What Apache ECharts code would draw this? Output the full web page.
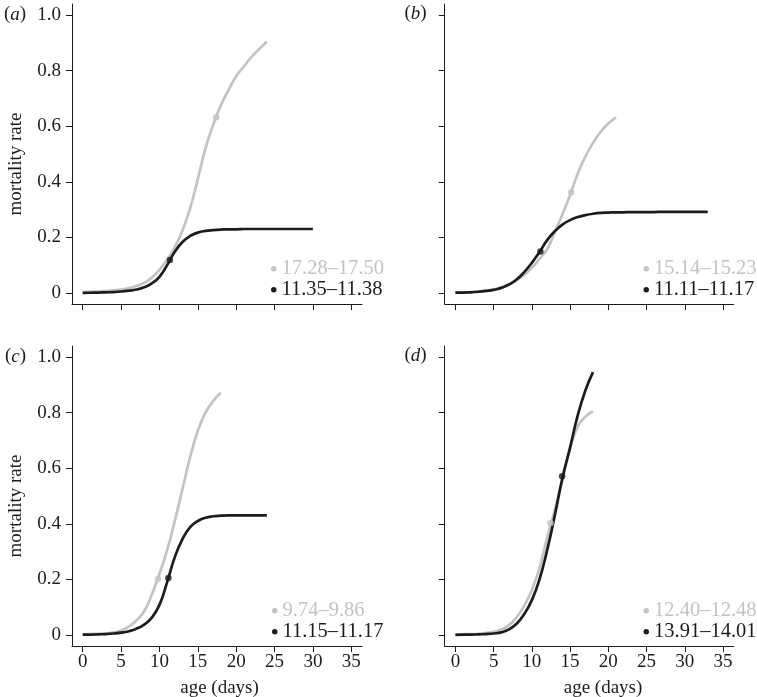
<!DOCTYPE html>
<html><head><meta charset="utf-8">
<script src="https://cdn.jsdelivr.net/npm/echarts@6/dist/echarts.min.js"></script>
<style>html,body{margin:0;padding:0;background:#fff}#c{width:757px;height:697px}</style>
</head><body><div id="c"></div>
<script>
// ---- tick labels / titles ----
const xTicks = [0, 5, 10, 15, 20, 25, 30, 35];
const yTicks = [0, 0.2, 0.4, 0.6, 0.8, 1.0];
const panelLetters = ['a', 'b', 'c', 'd'];
const xAxisTitle = 'age (days)';
const yAxisTitle = 'mortality rate';

// ---- legend names (age ranges) ----
const legendA = ['17.28–17.50', '11.35–11.38'];
const legendB = ['15.14–15.23', '11.11–11.17'];
const legendC = ['9.74–9.86', '11.15–11.17'];
const legendD = ['12.40–12.48', '13.91–14.01'];

// ---- panel (a) ----
const agesA_grey = [0,1,2,3,4,5,6,7,8,9,10,11,12,13,14,15,16,17,18,19,20,21,22,23,24];
const rateA_grey = [0.003,0.004,0.005,0.007,0.009,0.012,0.017,0.025,0.036,0.055,0.083,0.12,0.165,0.225,0.305,0.41,0.52,0.605,0.675,0.73,0.78,0.815,0.85,0.878,0.905];
const agesA_black = [0,1,2,3,4,5,6,7,8,9,10,11,12,13,14,15,16,17,18,19,20,21,22,23,24,25,26,27,28,29,30];
const rateA_black = [0,0.0005,0.001,0.002,0.003,0.005,0.008,0.012,0.02,0.034,0.058,0.1,0.148,0.183,0.205,0.217,0.223,0.226,0.228,0.229,0.229,0.23,0.23,0.23,0.23,0.23,0.23,0.23,0.23,0.23,0.23];
const pointA_grey = [17.4, 0.632];
const pointA_black = [11.36, 0.118];

// ---- panel (b) ----
const agesB_grey = [0,1,2,3,4,5,6,7,8,9,10,11,12,13,14,15,16,17,18,19,20,21];
const rateB_grey = [0.002,0.002,0.003,0.005,0.008,0.013,0.02,0.03,0.045,0.065,0.09,0.122,0.157,0.218,0.283,0.352,0.43,0.49,0.54,0.58,0.61,0.632];
const agesB_black = [0,1,2,3,4,5,6,7,8,9,10,11,12,13,14,15,16,17,18,19,20,21,22,23,24,25,26,27,28,29,30,31,32,33];
const rateB_black = [0.001,0.001,0.002,0.004,0.007,0.011,0.018,0.03,0.048,0.075,0.108,0.147,0.19,0.222,0.246,0.262,0.273,0.28,0.285,0.288,0.289,0.29,0.29,0.291,0.291,0.291,0.291,0.292,0.292,0.292,0.292,0.292,0.292,0.292];
const pointB_grey = [15.15, 0.362];
const pointB_black = [11.12, 0.149];

// ---- panel (c) ----
const agesC_grey = [0,1,2,3,4,5,6,7,8,9,10,11,12,13,14,15,16,17,18];
const rateC_grey = [0.002,0.003,0.004,0.005,0.009,0.016,0.03,0.052,0.085,0.145,0.22,0.305,0.41,0.525,0.64,0.735,0.80,0.842,0.872];
const agesC_black = [0,1,2,3,4,5,6,7,8,9,10,11,12,13,14,15,16,17,18,19,20,21,22,23,24];
const rateC_black = [0.001,0.001,0.002,0.003,0.005,0.008,0.013,0.022,0.037,0.062,0.108,0.19,0.28,0.345,0.388,0.41,0.422,0.427,0.429,0.43,0.43,0.43,0.43,0.43,0.43];
const pointC_grey = [9.8, 0.201];
const pointC_black = [11.16, 0.205];

// ---- panel (d) ----
const agesD_grey = [0,1,2,3,4,5,6,7,8,9,10,11,12,13,14,15,16,17,18];
const rateD_grey = [0.001,0.002,0.003,0.004,0.007,0.011,0.019,0.035,0.063,0.105,0.162,0.24,0.35,0.45,0.56,0.67,0.75,0.785,0.805];
const agesD_black = [0,1,2,3,4,5,6,7,8,9,10,11,12,13,14,15,16,17,18];
const rateD_black = [0,0.001,0.001,0.002,0.003,0.005,0.009,0.02,0.04,0.075,0.125,0.2,0.305,0.43,0.565,0.675,0.79,0.88,0.946];
const pointD_grey = [12.44, 0.403];
const pointD_black = [13.96, 0.571];

// ---- styling ----
const GREY = '#c3c3c3';
const BLACK = '#1c1c1c';
const FONT = 'Liberation Serif';
const FS = 19;
const FS_LEG = 20.5;

const panels = [
  {ages:[agesA_grey, agesA_black], rates:[rateA_grey, rateA_black], pts:[pointA_grey, pointA_black], names: legendA},
  {ages:[agesB_grey, agesB_black], rates:[rateB_grey, rateB_black], pts:[pointB_grey, pointB_black], names: legendB},
  {ages:[agesC_grey, agesC_black], rates:[rateC_grey, rateC_black], pts:[pointC_grey, pointC_black], names: legendC},
  {ages:[agesD_grey, agesD_black], rates:[rateD_grey, rateD_black], pts:[pointD_grey, pointD_black], names: legendD}
];

const grids = [
  {left: 72, top: 4, width: 290, height: 300},
  {left: 444.7, top: 4, width: 289, height: 300},
  {left: 72, top: 346, width: 290, height: 300},
  {left: 444.7, top: 346, width: 289, height: 300}
];

const xAxes = [], yAxes = [], series = [], legends = [];
const legendPos = [
  {left: 271, top: 258.2},
  {left: 643.5, top: 258.2},
  {left: 272, top: 600.2},
  {left: 643.5, top: 600.2}
];

panels.forEach((p, i) => {
  const bottomRow = i >= 2;
  const leftCol = i % 2 === 0;
  xAxes.push({
    gridIndex: i, type: 'value', min: -1.4, max: 36.4,
    axisLine: {show: true, onZero: false, lineStyle: {color: BLACK, width: 1}},
    axisTick: {show: true, length: 6, customValues: xTicks, lineStyle: {color: BLACK, width: 1}},
    axisLabel: {show: bottomRow, customValues: xTicks, margin: 7, color: BLACK, fontFamily: FONT, fontSize: FS},
    splitLine: {show: false}
  });
  yAxes.push({
    gridIndex: i, type: 'value', min: -0.04, max: 1.04,
    axisLine: {show: true, onZero: false, lineStyle: {color: BLACK, width: 1}},
    axisTick: {show: true, length: 6, customValues: yTicks, lineStyle: {color: BLACK, width: 1}},
    axisLabel: {show: leftCol, customValues: yTicks, margin: 11, color: BLACK, fontFamily: FONT, fontSize: FS,
      formatter: v => (Math.abs(v) < 1e-9 ? '0' : v.toFixed(1))},
    splitLine: {show: false}
  });
  const colors = [GREY, BLACK];
  [0, 1].forEach(k => {
    series.push({
      type: 'line', name: p.names[k], xAxisIndex: i, yAxisIndex: i,
      data: p.ages[k].map((a, j) => [a, p.rates[k][j]]),
      showSymbol: false, symbol: 'none', smooth: 0.5,
      lineStyle: {color: colors[k], width: 2.7}, itemStyle: {color: colors[k]},
      z: 2 + k, silent: true
    });
  });
  [0, 1].forEach(k => {
    series.push({
      type: 'scatter', name: p.names[k] + ' midpoint', xAxisIndex: i, yAxisIndex: i,
      data: [p.pts[k]], symbol: 'circle', symbolSize: 6.5,
      itemStyle: {color: colors[k]}, z: 5, silent: true
    });
  });
  legends.push({
    left: legendPos[i].left, top: legendPos[i].top, orient: 'vertical', padding: 0,
    itemWidth: 5.5, itemHeight: 5.5, itemGap: 0, selectedMode: false,
    textStyle: {fontFamily: FONT, fontSize: FS_LEG, lineHeight: 20.5},
    data: [
      {name: p.names[0], icon: 'circle', itemStyle: {color: GREY}, textStyle: {color: GREY}},
      {name: p.names[1], icon: 'circle', itemStyle: {color: BLACK}, textStyle: {color: BLACK}}
    ]
  });
});

const labelPos = [[4, 15], [404.5, 14], [5, 357], [404.5, 356]];
const graphics = labelPos.map((pos, i) => ({
  type: 'text', left: pos[0], top: pos[1] - 10,
  style: {text: '({i|' + panelLetters[i] + '})', fontFamily: FONT, fontSize: FS, fill: BLACK,
    rich: {i: {fontFamily: FONT, fontSize: FS, fontStyle: 'italic', color: BLACK}}}
}));
[[16, 164], [16, 506]].forEach(pos => {
  graphics.push({
    type: 'text', x: pos[0], y: pos[1], rotation: Math.PI / 2,
    style: {text: yAxisTitle, fontFamily: FONT, fontSize: FS, fill: BLACK, align: 'center', verticalAlign: 'middle'}
  });
});
[[219.5, 688], [603, 688]].forEach(pos => {
  graphics.push({
    type: 'text', x: pos[0], y: pos[1],
    style: {text: xAxisTitle, fontFamily: FONT, fontSize: FS, fill: BLACK, align: 'center', verticalAlign: 'middle'}
  });
});

const chart = echarts.init(document.getElementById('c'), null, {renderer: 'canvas'});
chart.setOption({
  animation: false,
  backgroundColor: '#fff',
  grid: grids,
  xAxis: xAxes,
  yAxis: yAxes,
  legend: legends,
  series: series,
  graphic: graphics
});
</script>
</body></html>
